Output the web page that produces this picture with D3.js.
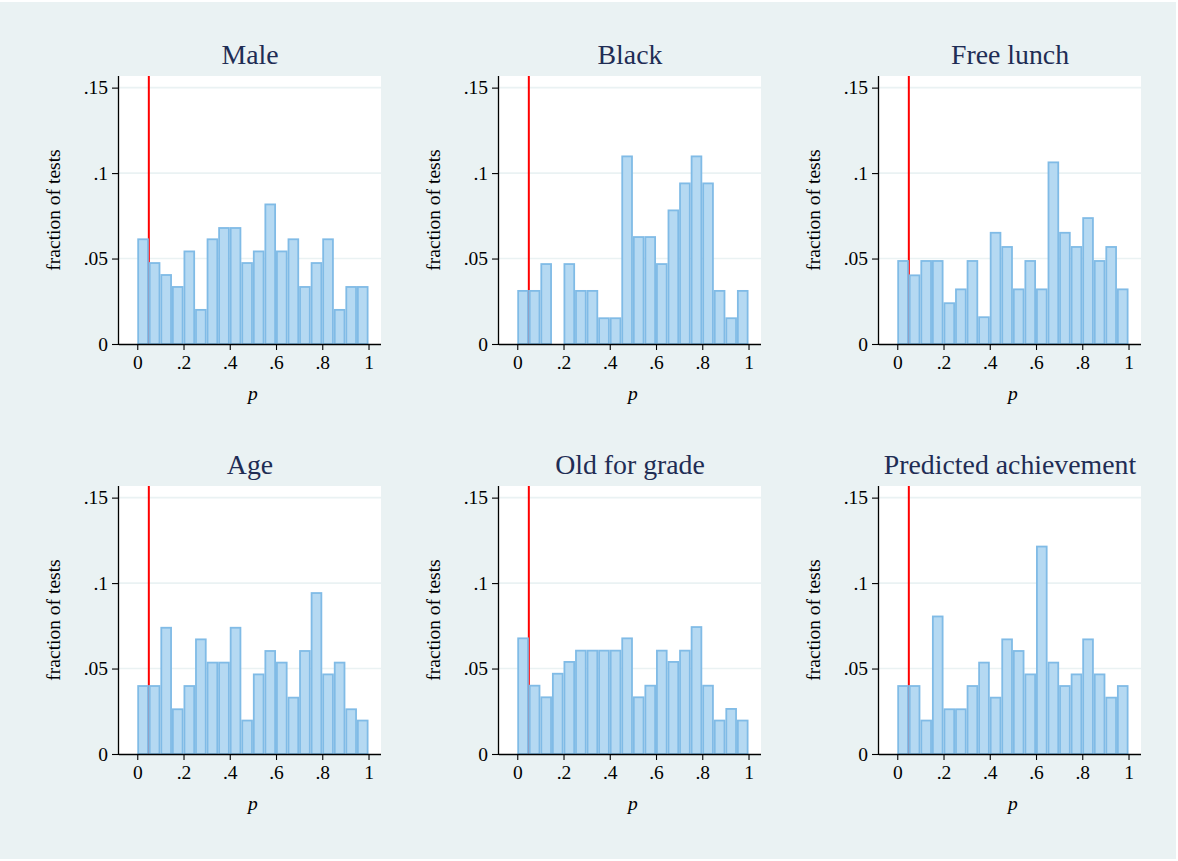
<!DOCTYPE html>
<html>
<head>
<meta charset="utf-8">
<script src="https://cdn.jsdelivr.net/npm/d3@7"></script>
<style>
  html, body { margin: 0; padding: 0; background: #ffffff; }
  svg { display: block; }
  text { font-family: "Liberation Serif", "Times New Roman", serif; }
</style>
</head>
<body>
<svg id="chart" width="1178" height="861"></svg>
<script>
// Histograms of balance-test p-values, 20 bins of width .05 on [0, 1]
const titles = ["Male", "Black", "Free lunch", "Age", "Old for grade", "Predicted achievement"];
const binWidth = 0.05;
const threshold = 0.05;

const male = [0.0618, 0.0479, 0.0409, 0.0339, 0.0547, 0.0205, 0.0618, 0.0684, 0.0684, 0.0479,
              0.0547, 0.0822, 0.0547, 0.0618, 0.0339, 0.0479, 0.0618, 0.0205, 0.0339, 0.0339];
const black = [0.0316, 0.0316, 0.0473, 0, 0.0473, 0.0316, 0.0316, 0.0156, 0.0156, 0.1103,
               0.0631, 0.0631, 0.0473, 0.0787, 0.0945, 0.1103, 0.0945, 0.0316, 0.0156, 0.0316];
const freeLunch = [0.0491, 0.0407, 0.0491, 0.0491, 0.0244, 0.0325, 0.0491, 0.0162, 0.0656, 0.0573,
                   0.0325, 0.0491, 0.0325, 0.1068, 0.0656, 0.0573, 0.0742, 0.0491, 0.0573, 0.0325];
const age = [0.0403, 0.0403, 0.0744, 0.0267, 0.0403, 0.0676, 0.0540, 0.0540, 0.0744, 0.0201,
             0.0471, 0.0608, 0.0540, 0.0335, 0.0608, 0.0947, 0.0471, 0.0540, 0.0267, 0.0201];
const oldForGrade = [0.0682, 0.0405, 0.0337, 0.0475, 0.0544, 0.0610, 0.0610, 0.0610, 0.0610, 0.0682,
                     0.0337, 0.0405, 0.0610, 0.0544, 0.0610, 0.0748, 0.0405, 0.0201, 0.0269, 0.0201];
const predicted = [0.0403, 0.0403, 0.0201, 0.0810, 0.0267, 0.0267, 0.0403, 0.0540, 0.0335, 0.0676,
                   0.0608, 0.0471, 0.1219, 0.0540, 0.0403, 0.0471, 0.0676, 0.0471, 0.0335, 0.0403];

const xTicks = [0, 0.2, 0.4, 0.6, 0.8, 1];
const xTickLabels = ["0", ".2", ".4", ".6", ".8", "1"];
const yTicks = [0, 0.05, 0.1, 0.15];
const yTickLabels = ["0", ".05", ".1", ".15"];

const series = [male, black, freeLunch, age, oldForGrade, predicted];

const svg = d3.select("#chart");

// Outer graph region
svg.append("rect")
  .attr("x", 0).attr("y", 2).attr("width", 1176).attr("height", 857)
  .attr("fill", "#eaf2f3");

const plotW = 262, plotH = 268;
const origins = [[119, 76], [499, 76], [879, 76], [119, 486], [499, 486], [879, 486]];

const x = d3.scaleLinear().domain([-0.079, 1.054]).range([0, plotW]);
const y = d3.scaleLinear().domain([0, 0.1568]).range([plotH, 0]);

const BG = "#eaf2f3";
const BAR_FILL = "#b5d9f2";
const BAR_STROKE = "#80bbe6";

series.forEach((vals, k) => {
  const [ox, oy] = origins[k];
  const g = svg.append("g").attr("transform", `translate(${ox},${oy})`);

  // plot region
  g.append("rect").attr("x", 0).attr("y", 0)
    .attr("width", plotW).attr("height", plotH).attr("fill", "#ffffff");

  // horizontal grid
  g.selectAll("line.grid").data(yTicks.filter(d => d > 0)).enter()
    .append("line").attr("class", "grid")
    .attr("x1", 0).attr("x2", plotW)
    .attr("y1", d => y(d)).attr("y2", d => y(d))
    .attr("stroke", BG).attr("stroke-width", 1.6);

  // reference line at p = .05 (behind the bars)
  g.append("line")
    .attr("x1", x(threshold)).attr("x2", x(threshold))
    .attr("y1", 0).attr("y2", plotH)
    .attr("stroke", "#ff0000").attr("stroke-width", 2);

  // histogram bars
  const bins = vals.map((v, i) => ({ x0: i * binWidth, x1: (i + 1) * binWidth, v }));
  g.selectAll("rect.bar").data(bins.filter(b => b.v > 0)).enter()
    .append("rect").attr("class", "bar")
    .attr("x", d => x(d.x0) + 0.9)
    .attr("width", d => x(d.x1) - x(d.x0) - 1.8)
    .attr("y", d => y(d.v) + 0.9)
    .attr("height", d => Math.max(0, y(0) - y(d.v) - 0.9))
    .attr("fill", BAR_FILL)
    .attr("stroke", BAR_STROKE).attr("stroke-width", 1.8);

  // x axis
  const xAxis = d3.axisBottom(x).tickValues(xTicks)
    .tickFormat((d, i) => xTickLabels[i]).tickSize(6).tickPadding(5);
  const gx = g.append("g").attr("transform", `translate(0,${plotH})`).call(xAxis);
  gx.select(".domain").attr("d", `M0,0.5H${plotW}`).attr("stroke", "#000").attr("stroke-width", 1.3);
  gx.selectAll(".tick line").attr("stroke", "#000").attr("stroke-width", 1.1);
  gx.selectAll(".tick text").attr("font-size", 19.5).attr("fill", "#000");

  // y axis
  const yAxis = d3.axisLeft(y).tickValues(yTicks)
    .tickFormat((d, i) => yTickLabels[i]).tickSize(7).tickPadding(4);
  const gy = g.append("g").call(yAxis);
  gy.select(".domain").attr("d", `M-0.5,0V${plotH}`).attr("stroke", "#000").attr("stroke-width", 1.3);
  gy.selectAll(".tick line").attr("stroke", "#000").attr("stroke-width", 1.1);
  gy.selectAll(".tick text").attr("font-size", 19.5).attr("fill", "#000");

  // title
  g.append("text")
    .attr("x", plotW / 2).attr("y", -12)
    .attr("text-anchor", "middle")
    .attr("font-size", 27.8).attr("fill", "#1f2d55")
    .text(titles[k]);

  // axis titles
  g.append("text")
    .attr("x", x(0.5)).attr("y", plotH + 56)
    .attr("text-anchor", "middle")
    .attr("font-size", 19.5).attr("font-style", "italic").attr("fill", "#000")
    .text("p");

  g.append("text")
    .attr("transform", `translate(-59,${plotH / 2}) rotate(-90)`)
    .attr("text-anchor", "middle")
    .attr("font-size", 19.5).attr("fill", "#000")
    .text("fraction of tests");
});
</script>
</body>
</html>
